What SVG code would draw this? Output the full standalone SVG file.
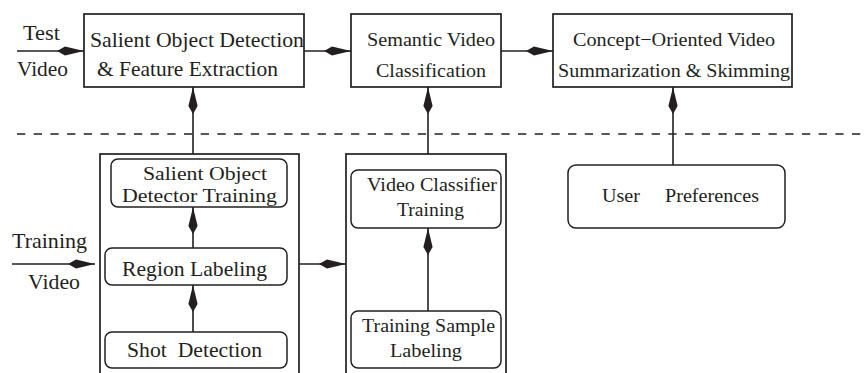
<svg xmlns="http://www.w3.org/2000/svg" width="865" height="373" viewBox="0 0 865 373">
<style>
  .box { fill: #fff; stroke: #231f20; stroke-width: 1.7; }
  .rbox { fill: #fff; stroke: #231f20; stroke-width: 1.5; }
  .ln { stroke: #231f20; stroke-width: 1.6; fill: none; }
  .dash { stroke: #231f20; stroke-width: 1.6; stroke-dasharray: 8.3 8.4; }
  text { font-family: "Liberation Serif", "Times New Roman", serif; font-size: 21.7px; fill: #231f20; }
  .s { font-size: 19.8px; }
  .t { font-size: 19.5px; }
</style>
<defs>
  <marker id="kite" markerUnits="userSpaceOnUse" viewBox="-28 -5 29 10" refX="0" refY="0" markerWidth="29" markerHeight="10" orient="auto">
    <path d="M0,0 L-19,-4.6 L-27,0 L-19,4.6 Z" fill="#231f20"/>
  </marker>
</defs>
<rect width="865" height="373" fill="#fff"/>
<line class="dash" x1="17" y1="134" x2="865" y2="134"/>

<g id="test-video">
  <text x="23" y="40" textLength="37" lengthAdjust="spacingAndGlyphs">Test</text>
  <text x="17" y="76" textLength="51" lengthAdjust="spacingAndGlyphs">Video</text>
</g>
<g id="salient-detection">
  <rect class="box" x="84" y="14" width="220" height="73"/>
  <text x="90" y="47" textLength="214" lengthAdjust="spacingAndGlyphs">Salient Object Detection</text>
  <text x="97" y="76" textLength="181" lengthAdjust="spacingAndGlyphs">&amp; Feature Extraction</text>
</g>
<g id="semantic-classification">
  <rect class="box" x="351" y="14" width="150" height="73"/>
  <text class="s" x="367" y="46" textLength="128" lengthAdjust="spacingAndGlyphs">Semantic Video</text>
  <text class="s" x="376" y="76.5" textLength="110" lengthAdjust="spacingAndGlyphs">Classification</text>
</g>
<g id="summarization">
  <rect class="box" x="553" y="14" width="239" height="73"/>
  <text class="s" x="573" y="46" textLength="202" lengthAdjust="spacingAndGlyphs">Concept−Oriented Video</text>
  <text class="s" x="558" y="76.5" textLength="232" lengthAdjust="spacingAndGlyphs">Summarization &amp; Skimming</text>
</g>
<g id="training-video">
  <text x="12" y="248" textLength="75" lengthAdjust="spacingAndGlyphs">Training</text>
  <text x="28" y="289" textLength="52" lengthAdjust="spacingAndGlyphs">Video</text>
</g>
<g id="training-container-1">
  <rect class="box" x="100" y="154" width="199" height="240"/>
</g>
<g id="detector-training">
  <rect class="rbox" x="111" y="159" width="176" height="48" rx="7"/>
  <text class="t" x="143" y="180" textLength="124" lengthAdjust="spacingAndGlyphs">Salient Object</text>
  <text class="t" x="122" y="202" textLength="155" lengthAdjust="spacingAndGlyphs">Detector Training</text>
</g>
<g id="region-labeling">
  <rect class="rbox" x="105" y="248" width="182" height="37" rx="7"/>
  <text x="122" y="276" textLength="145" lengthAdjust="spacingAndGlyphs">Region Labeling</text>
</g>
<g id="shot-detection">
  <rect class="rbox" x="105" y="332" width="182" height="36" rx="7"/>
  <text x="127" y="357" textLength="135" lengthAdjust="spacingAndGlyphs" xml:space="preserve">Shot  Detection</text>
</g>
<g id="training-container-2">
  <rect class="box" x="346" y="154" width="160" height="240"/>
</g>
<g id="classifier-training">
  <rect class="rbox" x="351" y="170" width="150" height="58" rx="7"/>
  <text class="s" x="367" y="191" textLength="130" lengthAdjust="spacingAndGlyphs">Video Classifier</text>
  <text class="s" x="397" y="216" textLength="67" lengthAdjust="spacingAndGlyphs">Training</text>
</g>
<g id="sample-labeling">
  <rect class="rbox" x="351" y="311" width="150" height="57" rx="7"/>
  <text class="s" x="362" y="332" textLength="133" lengthAdjust="spacingAndGlyphs">Training Sample</text>
  <text class="s" x="390" y="357" textLength="72" lengthAdjust="spacingAndGlyphs">Labeling</text>
</g>
<g id="user-preferences">
  <rect class="rbox" x="568" y="165" width="217" height="63" rx="8"/>
  <text class="s" x="602" y="202" textLength="38" lengthAdjust="spacingAndGlyphs">User</text>
  <text class="s" x="665" y="202" textLength="94" lengthAdjust="spacingAndGlyphs">Preferences</text>
</g>

<g id="connectors">
  <line class="ln" x1="17" y1="51" x2="84" y2="51" marker-end="url(#kite)"/>
  <line class="ln" x1="304" y1="51" x2="351" y2="51" marker-end="url(#kite)"/>
  <line class="ln" x1="501" y1="51" x2="553" y2="51" marker-end="url(#kite)"/>
  <line class="ln" x1="193" y1="154" x2="193" y2="87" marker-end="url(#kite)"/>
  <line class="ln" x1="428" y1="154" x2="428" y2="87" marker-end="url(#kite)"/>
  <line class="ln" x1="673" y1="165" x2="673" y2="87" marker-end="url(#kite)"/>
  <line class="ln" x1="193" y1="248" x2="193" y2="207" marker-end="url(#kite)"/>
  <line class="ln" x1="193" y1="332" x2="193" y2="285" marker-end="url(#kite)"/>
  <line class="ln" x1="12" y1="264" x2="95" y2="264" marker-end="url(#kite)"/>
  <line class="ln" x1="299" y1="264" x2="346" y2="264" marker-end="url(#kite)"/>
  <line class="ln" x1="428" y1="311" x2="428" y2="228" marker-end="url(#kite)"/>
</g>
</svg>
